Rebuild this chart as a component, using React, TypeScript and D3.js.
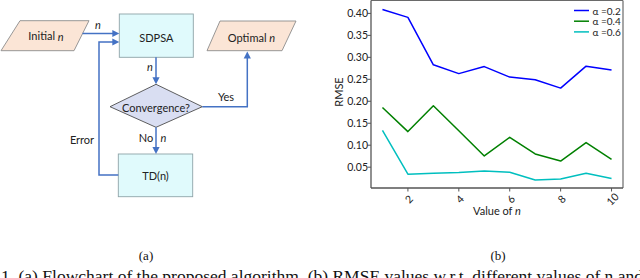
import React from "react";
import * as d3 from "d3";

const nValues = [1, 2, 3, 4, 5, 6, 7, 8, 9, 10];
const alpha02 = [0.409, 0.391, 0.283, 0.263, 0.279, 0.255, 0.249, 0.23, 0.28, 0.271];
const alpha04 = [0.186, 0.131, 0.19, 0.133, 0.0755, 0.118, 0.08, 0.064, 0.106, 0.068];
const alpha06 = [0.134, 0.034, 0.036, 0.038, 0.0415, 0.0385, 0.021, 0.023, 0.036, 0.024];
const seriesLabels = ["α =0.2", "α =0.4", "α =0.6"];
const seriesColors = ["#0000ff", "#008000", "#00bfbf"];
const xTicks = [2, 4, 6, 8, 10];
const yTicks = [0.05, 0.1, 0.15, 0.2, 0.25, 0.3, 0.35, 0.4];

const SANS = "Lato, 'Open Sans', sans-serif";
const SERIF = "'Liberation Serif', 'Times New Roman', serif";
const ARROW = "#4472C4";

function Arrowhead({ x, y, dir }: { x: number; y: number; dir: "right" | "up" | "down" }) {
  const L = 7, W = 3.6;
  let pts = "";
  if (dir === "right") pts = `${x},${y} ${x - L},${y - W} ${x - L},${y + W}`;
  if (dir === "down") pts = `${x},${y} ${x - W},${y - L} ${x + W},${y - L}`;
  if (dir === "up") pts = `${x},${y} ${x - W},${y + L} ${x + W},${y + L}`;
  return <polygon points={pts} fill={ARROW} />;
}

function Flowchart() {
  const lw = 1.5;
  return (
    <g fontFamily={SANS} fontSize={11} fill="#222">
      <polygon points="20,20.7 89,20.7 74,50.7 1,50.7" fill="#FBE5D6" stroke="#8c8c8c" strokeWidth={0.9} />
      <text x={46} y={35.5} textAnchor="middle" dominantBaseline="central">
        Initial <tspan fontStyle="italic">n</tspan>
      </text>
      <rect x={119.3} y={14} width={74} height={43.3} fill="#E0FAFC" stroke="#8ea4a8" strokeWidth={0.9} />
      <text x={156.3} y={37} textAnchor="middle" dominantBaseline="central">SDPSA</text>
      <polygon points="220,21 296,21 282,50.7 207,50.7" fill="#FBE5D6" stroke="#8c8c8c" strokeWidth={0.9} />
      <text x={251.5} y={37} textAnchor="middle" dominantBaseline="central">
        Optimal <tspan fontStyle="italic">n</tspan>
      </text>
      <polygon points="156,84.3 202.3,106.7 156,127.3 110,106.7" fill="#D9DEF2" stroke="#4d4d4d" strokeWidth={0.9} />
      <text x={156} y={107} textAnchor="middle" dominantBaseline="central">Convergence?</text>
      <rect x={118.3} y={154} width={74.4} height={42.7} fill="#E0FAFC" stroke="#8ea4a8" strokeWidth={0.9} />
      <text x={155.5} y={175.5} textAnchor="middle" dominantBaseline="central">TD(n)</text>

      <g stroke={ARROW} strokeWidth={lw} fill="none">
        <line x1={82.5} y1={33.5} x2={113} y2={33.5} />
        <polyline points="118.3,175 99,175 99,42 113,42" />
        <line x1={156} y1={57.3} x2={156} y2={78} />
        <polyline points="202.3,106.7 247.3,106.7 247.3,58" />
        <line x1={156} y1={127.3} x2={156} y2={148} />
      </g>
      <Arrowhead x={119.3} y={33.5} dir="right" />
      <Arrowhead x={119.3} y={42} dir="right" />
      <Arrowhead x={156} y={84.3} dir="down" />
      <Arrowhead x={247.3} y={51.5} dir="up" />
      <Arrowhead x={156} y={154} dir="down" />

      <text x={98} y={29} textAnchor="middle" fontStyle="italic">n</text>
      <text x={150} y={71} textAnchor="middle" fontStyle="italic">n</text>
      <text x={226} y={101} textAnchor="middle">Yes</text>
      <text x={82} y={144} textAnchor="middle">Error</text>
      <text x={146} y={142} textAnchor="middle">No</text>
      <text x={163.5} y={142} textAnchor="middle" fontStyle="italic">n</text>
    </g>
  );
}

function LineChart() {
  const left = 371, right = 623, top = 0.5, bottom = 188;
  const x = d3.scaleLinear().domain([0.55, 10.45]).range([left, right]);
  const y = d3.scaleLinear().domain([0.0026, 0.4294]).range([bottom, top]);
  const series = [alpha02, alpha04, alpha06];
  const line = d3
    .line<number>()
    .x((_, i) => x(nValues[i]))
    .y((d) => y(d));
  return (
    <g fontFamily={SANS} fontSize={10.5} fill="#222">
      <rect x={left} y={top} width={right - left} height={bottom - top} fill="white" stroke="none" />
      {series.map((s, i) => (
        <path key={i} d={line(s) || ""} fill="none" stroke={seriesColors[i]} strokeWidth={1.5} strokeLinejoin="round" />
      ))}
      <line x1={left} y1={top} x2={right} y2={top} stroke="#6a6a6a" strokeWidth={1.2} />
      <line x1={right} y1={top} x2={right} y2={bottom} stroke="#6a6a6a" strokeWidth={1.2} />
      <line x1={left} y1={top} x2={left} y2={bottom} stroke="#555" strokeWidth={1.3} />
      <line x1={left} y1={bottom} x2={right} y2={bottom} stroke="#555" strokeWidth={1.3} />
      {yTicks.map((t) => (
        <g key={t}>
          <line x1={left - 3.5} x2={left} y1={y(t)} y2={y(t)} stroke="#555" strokeWidth={1} />
          <text x={left - 3} y={y(t)} textAnchor="end" dominantBaseline="central">
            {t.toFixed(2)}
          </text>
        </g>
      ))}
      {xTicks.map((t) => (
        <g key={t}>
          <line x1={x(t)} x2={x(t)} y1={bottom} y2={bottom + 3.5} stroke="#555" strokeWidth={1} />
          <text
            transform={`translate(${x(t) + 1},${bottom + 11}) rotate(-45)`}
            textAnchor="middle"
            dominantBaseline="central"
          >
            {t}
          </text>
        </g>
      ))}
      <text x={(left + right) / 2} y={215} textAnchor="middle" fontSize={11}>
        Value of <tspan fontStyle="italic">n</tspan>
      </text>
      <text transform={`translate(338,92) rotate(-90)`} textAnchor="middle" dominantBaseline="central" fontSize={11}>
        RMSE
      </text>
      {seriesLabels.map((lab, i) => (
        <g key={lab}>
          <line x1={574} x2={589} y1={10.5 + i * 10.7} y2={10.5 + i * 10.7} stroke={seriesColors[i]} strokeWidth={1.5} />
          <text x={592.5} y={10.5 + i * 10.7} dominantBaseline="central" fontSize={10}>
            {lab}
          </text>
        </g>
      ))}
    </g>
  );
}

export default function App() {
  return (
    <svg
      width={640}
      height={278}
      viewBox="0 0 640 278"
      style={{ position: "absolute", left: 0, top: 0, background: "white" }}
    >
      <rect width={640} height={278} fill="white" />
      <Flowchart />
      <LineChart />
      <g fontFamily={SERIF} fill="#111">
        <text x={146} y={259.5} fontSize={13} textAnchor="middle">(a)</text>
        <text x={498} y={259.5} fontSize={13} textAnchor="middle">(b)</text>
        <text x={1} y={281.5} fontSize={17.5}>
          1. (a) Flowchart of the proposed algorithm. (b) RMSE values w.r.t. different values of n and fixed α.
        </text>
      </g>
    </svg>
  );
}
